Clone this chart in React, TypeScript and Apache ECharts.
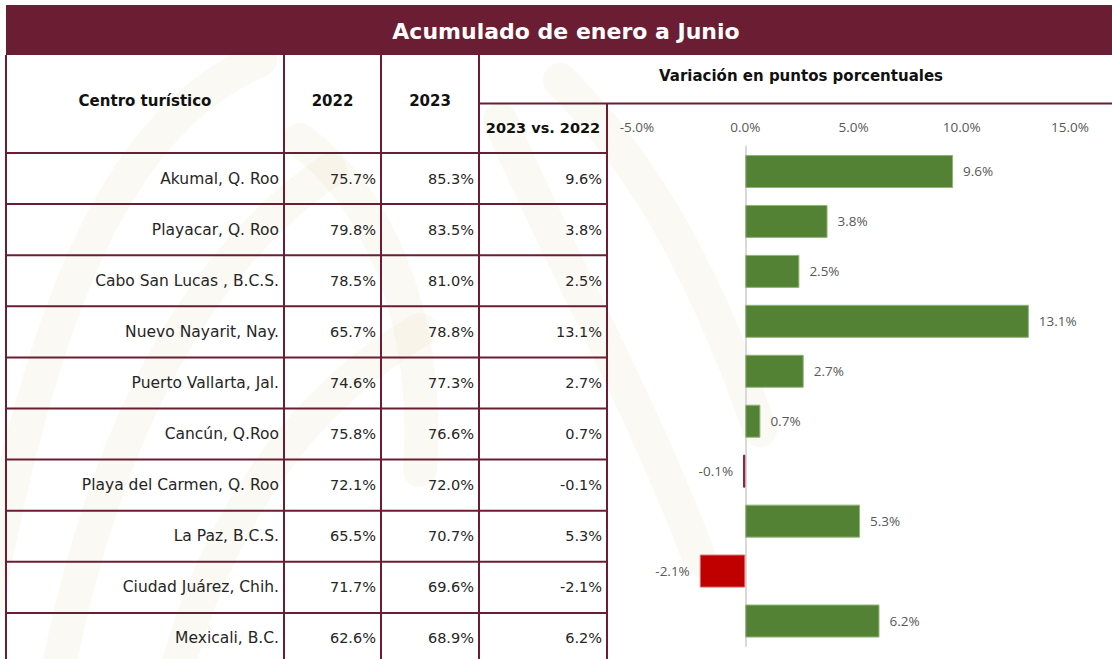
import React, { useEffect, useRef } from "react";
import * as echarts from "echarts";

const titulo = "Acumulado de enero a Junio";
const encabezados = ["Centro turístico", "2022", "2023"];
const subtitulo = "Variación en puntos porcentuales";
const subencabezado = "2023 vs. 2022";

const centros = [
  "Akumal, Q. Roo",
  "Playacar, Q. Roo",
  "Cabo San Lucas , B.C.S.",
  "Nuevo Nayarit, Nay.",
  "Puerto Vallarta, Jal.",
  "Cancún, Q.Roo",
  "Playa del Carmen, Q. Roo",
  "La Paz, B.C.S.",
  "Ciudad Juárez, Chih.",
  "Mexicali, B.C.",
];
const ocup2022 = [75.7, 79.8, 78.5, 65.7, 74.6, 75.8, 72.1, 65.5, 71.7, 62.6];
const ocup2023 = [85.3, 83.5, 81.0, 78.8, 77.3, 76.6, 72.0, 70.7, 69.6, 68.9];
const variacion = [9.6, 3.8, 2.5, 13.1, 2.7, 0.7, -0.1, 5.3, -2.1, 6.2];

const ejeMin = -5;
const ejeMax = 15;
const ejePaso = 5;

const GUINDA = "#6B1D33";
const VERDE = "#548235";
const ROJO = "#C00000";
const FONT = "'Open Sans', 'Noto Sans', sans-serif";
const FONT_T = "'DejaVu Sans', 'Open Sans', sans-serif";

const pct = (v: number) => v.toFixed(1) + "%";

export default function App() {
  const ref = useRef<HTMLDivElement>(null);

  useEffect(() => {
    if (!ref.current) return;
    const chart = echarts.init(ref.current, null, { renderer: "svg" });

    const W = 1112;
    const left = 6;
    const bandTop = 5;
    const bandBottom = 55;
    const tableTop = 153;
    const rowH = 51.1;
    const colX = [left, 284, 381, 479, 607];
    const subLineY = 103.5;
    const bottom = 659;

    const g: any[] = [];

    // faint watermark swirls
    const wm = "rgba(240,232,212,0.28)";
    const swirls = [
      [[-20, 640], [40, 300], [120, 120], [260, 60]],
      [[60, 660], [110, 420], [200, 260], [330, 170]],
      [[180, 659], [220, 520], [300, 400], [420, 330]],
      [[300, 140], [380, 200], [430, 320], [420, 470]],
      [[500, 120], [560, 260], [640, 400], [700, 560]],
      [[560, 80], [640, 160], [700, 260], [760, 430]],
    ];
    swirls.forEach((s) => {
      g.push({
        type: "bezierCurve",
        z: -10,
        silent: true,
        shape: {
          x1: s[0][0], y1: s[0][1],
          cpx1: s[1][0], cpy1: s[1][1],
          cpx2: s[2][0], cpy2: s[2][1],
          x2: s[3][0], y2: s[3][1],
        },
        style: { stroke: wm, lineWidth: 34, fill: null, lineCap: "round" },
      });
    });

    // title band
    g.push({
      type: "rect",
      shape: { x: left, y: bandTop, width: W - left, height: bandBottom - bandTop },
      style: { fill: GUINDA },
    });
    g.push({
      type: "text",
      x: 566,
      y: (bandTop + bandBottom) / 2 + 1,
      style: {
        text: titulo,
        fill: "#ffffff",
        font: `bold 22px ${FONT_T}`,
        align: "center",
        verticalAlign: "middle",
      },
    });

    const line = (x1: number, y1: number, x2: number, y2: number) => ({
      type: "line",
      shape: { x1, y1, x2, y2 },
      style: { stroke: GUINDA, lineWidth: 2 },
    });

    // vertical lines
    g.push(line(colX[0], bandBottom, colX[0], bottom));
    g.push(line(colX[1], bandBottom, colX[1], bottom));
    g.push(line(colX[2], bandBottom, colX[2], bottom));
    g.push(line(colX[3], bandBottom, colX[3], bottom));
    g.push(line(colX[4], subLineY, colX[4], bottom));
    g.push(line(colX[3], subLineY, W, subLineY));

    // horizontal row lines
    for (let i = 0; i < centros.length; i++) {
      const y = tableTop + i * rowH;
      g.push(line(colX[0], y, colX[4], y));
    }

    // header texts
    const headY = 101;
    encabezados.forEach((t, i) => {
      g.push({
        type: "text",
        x: (colX[i] + colX[i + 1]) / 2,
        y: headY,
        style: {
          text: t,
          fill: "#111111",
          font: `bold 15px ${FONT_T}`,
          align: "center",
          verticalAlign: "middle",
        },
      });
    });
    g.push({
      type: "text",
      x: 801,
      y: 76,
      style: {
        text: subtitulo,
        fill: "#111111",
        font: `bold 15px ${FONT_T}`,
        align: "center",
        verticalAlign: "middle",
      },
    });
    g.push({
      type: "text",
      x: (colX[3] + colX[4]) / 2,
      y: 128,
      style: {
        text: subencabezado,
        fill: "#111111",
        font: `bold 14.5px ${FONT_T}`,
        align: "center",
        verticalAlign: "middle",
      },
    });

    // cell texts
    centros.forEach((c, i) => {
      const yc = tableTop + i * rowH + rowH / 2;
      const vals = [c, pct(ocup2022[i]), pct(ocup2023[i]), pct(variacion[i])];
      vals.forEach((t, j) => {
        g.push({
          type: "text",
          x: colX[j + 1] - 5,
          y: yc,
          style: {
            text: t,
            fill: "#262626",
            font: `${j === 0 ? 15.5 : 14.5}px ${FONT_T}`,
            align: "right",
            verticalAlign: "middle",
          },
        });
      });
    });

    chart.setOption({
      animation: false,
      backgroundColor: "#ffffff",
      textStyle: { fontFamily: FONT },
      graphic: { elements: g },
      grid: { left: 637, right: 42, top: 146.5, bottom: 13, containLabel: false },
      xAxis: {
        type: "value",
        position: "top",
        min: ejeMin,
        max: ejeMax,
        interval: ejePaso,
        axisLine: { show: false },
        axisTick: { show: false },
        splitLine: { show: false },
        axisLabel: {
          formatter: (v: number) => pct(v),
          color: "#595959",
          fontSize: 13.5,
          fontFamily: FONT,
          margin: 13,
        },
      },
      yAxis: {
        type: "category",
        inverse: true,
        data: centros,
        axisLine: { show: true, onZero: true, lineStyle: { color: "#d9d9d9", width: 2 } },
        axisTick: { show: false },
        axisLabel: { show: false },
        splitLine: { show: false },
      },
      series: [
        {
          type: "bar",
          barWidth: 33,
          z: 3,
          data: variacion.map((v) => ({
            value: v,
            itemStyle: {
              color: v >= 0 ? VERDE : ROJO,
              borderColor: v >= 0 ? "#8fb574" : v > -1 ? "#8B1A3A" : "#d66a6a",
              borderWidth: 1,
            },
            label: {
              show: true,
              position: v >= 0 ? "right" : "left",
              distance: 10,
              formatter: (p: any) => pct(p.value),
              color: "#595959",
              fontSize: 13.5,
              fontFamily: FONT,
            },
          })),
        },
      ],
    });

    return () => chart.dispose();
  }, []);

  return (
    <div
      ref={ref}
      style={{ position: "fixed", left: 0, top: 0, width: 1112, height: 659 }}
    />
  );
}
